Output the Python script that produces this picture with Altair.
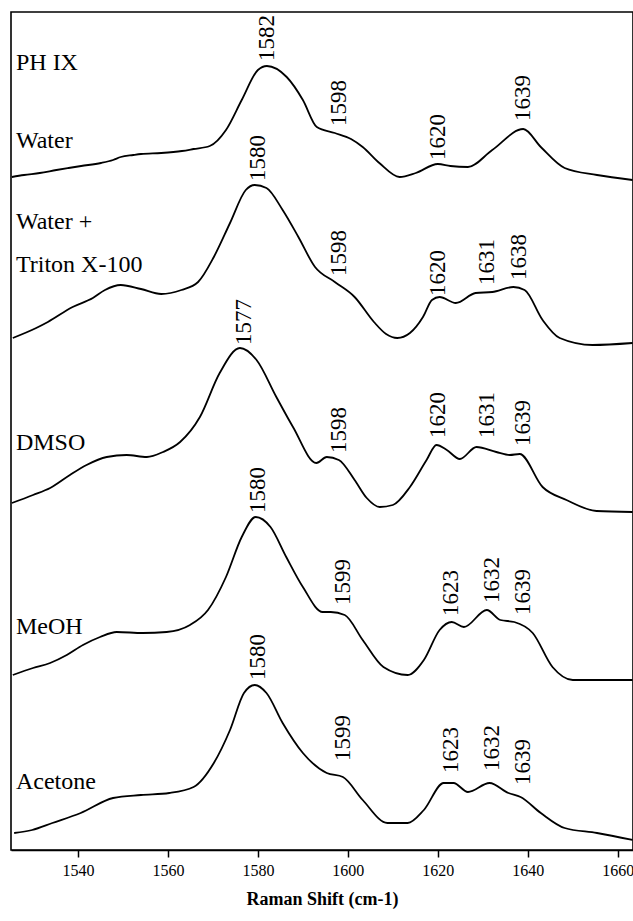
import altair as alt
import pandas as pd

# ---- spectra (Raman shift, stacked intensity in arbitrary units) ----
water_x = [1525.3, 1528.0, 1531.5, 1535.2, 1537.9, 1540.7, 1545.1, 1547.8, 1549.5,
           1552.3, 1554.0, 1558.5, 1561.2, 1563.1, 1565.7, 1569.3, 1572.9, 1576.4, 1580.0,
           1582.0, 1586.4, 1590.0, 1593.1, 1597.1, 1600.7, 1603.3, 1607.0, 1611.5, 1615.1,
           1620.0, 1622.8, 1626.7, 1632.1, 1639.0, 1642.9, 1648.2, 1655.4, 1663.3]
water_y = [673, 675, 677, 680, 682, 684, 687, 690, 693,
           695, 696, 697, 698, 699, 701, 704, 720, 750, 780,
           784, 773, 750, 723, 717, 711, 703, 687, 673, 677,
           686, 684, 683, 700, 721, 703, 682, 675, 670]

triton_x = [1525.5, 1530.7, 1533.3, 1538.8, 1543.3, 1546.0, 1549.5, 1554.0, 1558.5, 1563.0,
            1566.7, 1570.2, 1573.8, 1577.3, 1579.3, 1581.9, 1585.5, 1589.0, 1592.7, 1597.1,
            1601.5, 1605.8, 1608.5, 1611.0, 1613.8, 1616.7, 1618.7, 1620.4, 1624.0, 1628.4,
            1632.1, 1636.8, 1639.3, 1643.3, 1647.1, 1654.4, 1663.3]
triton_y = [512, 522, 528, 543, 552, 560, 565, 561, 556, 560,
            568, 593, 627, 660, 665, 662, 640, 613, 583, 568,
            553, 528, 516, 512, 517, 533, 550, 553, 547, 557,
            558, 563, 560, 530, 512, 505, 507]

dmso_x = [1525.3, 1530.0, 1533.8, 1538.2, 1541.9, 1546.4, 1550.8, 1555.3, 1558.9, 1562.7,
          1567.1, 1571.5, 1576.0, 1579.7, 1584.1, 1587.8, 1593.0, 1595.3, 1598.0, 1601.5,
          1604.2, 1607.1, 1610.0, 1613.8, 1617.5, 1619.7, 1622.0, 1624.9, 1628.6, 1633.0,
          1636.0, 1638.2, 1643.3, 1648.6, 1655.3, 1663.3]
dmso_y = [347, 355, 362, 375, 385, 393, 395, 393, 398, 408,
          433, 477, 502, 490, 453, 423, 387, 393, 390, 370,
          352, 343, 345, 363, 390, 405, 400, 391, 403, 398,
          395, 396, 363, 350, 339, 338]

meoh_x = [1525.5, 1530.0, 1533.8, 1537.5, 1541.1, 1544.9, 1548.6, 1554.4, 1559.7, 1564.9,
          1568.9, 1572.9, 1576.4, 1579.5, 1582.8, 1586.3, 1590.0, 1594.4, 1596.2, 1599.3,
          1603.3, 1607.9, 1613.3, 1616.9, 1620.4, 1623.1, 1625.8, 1630.9, 1633.9, 1637.0,
          1641.1, 1645.5, 1650.0, 1663.3]
meoh_y = [175, 182, 187, 195, 205, 213, 218, 217, 218, 225,
          240, 273, 313, 333, 323, 293, 263, 238, 238, 235,
          210, 183, 175, 190, 220, 228, 223, 240, 230, 228,
          217, 183, 170, 170]

acetone_x = [1525.8, 1529.8, 1534.3, 1540.6, 1547.8, 1554.0, 1560.3, 1565.7, 1570.2, 1573.8,
             1576.9, 1579.3, 1581.9, 1585.5, 1590.0, 1595.3, 1598.9, 1603.3, 1608.8, 1613.3,
             1616.9, 1621.3, 1623.5, 1626.7, 1631.5, 1635.7, 1638.4, 1642.9, 1648.2, 1655.4,
             1663.3]
acetone_y = [17, 20, 27, 37, 52, 55, 57, 63, 87, 120,
             157, 165, 157, 127, 97, 77, 73, 50, 27, 27,
             40, 67, 67, 58, 67, 57, 53, 37, 22, 17,
             10]

# ---- sample names ----
name_text = ["PH IX", "Water", "Water +", "Triton X-100", "DMSO", "MeOH", "Acetone"]
name_y = [787, 709, 628, 585, 407, 223, 68]

# ---- peak labels ----
peak_text = ["1582", "1598", "1620", "1639",
             "1580", "1598", "1620", "1631", "1638",
             "1577", "1598", "1620", "1631", "1639",
             "1580", "1599", "1623", "1632", "1639",
             "1580", "1599", "1623", "1632", "1639"]
peak_x = [1582, 1598, 1620, 1639,
          1580, 1598, 1620, 1631, 1638,
          1577, 1598, 1620, 1631, 1639,
          1580, 1599, 1623, 1632, 1639,
          1580, 1599, 1623, 1632, 1639]
peak_y = [787, 722, 688, 727,
          667, 572, 552, 563, 568,
          503, 395, 410, 410, 402,
          335, 243, 232, 245, 233,
          168, 87, 75, 77, 63]

tick_values = [1540, 1560, 1580, 1600, 1620, 1640, 1660]

series = [("Water", water_x, water_y), ("Triton", triton_x, triton_y),
          ("DMSO", dmso_x, dmso_y), ("MeOH", meoh_x, meoh_y),
          ("Acetone", acetone_x, acetone_y)]
rows = []
for name, xs, ys in series:
    for i, (a, b) in enumerate(zip(xs, ys)):
        rows.append({"s": name, "x": a, "y": b, "i": i})
lines_df = pd.DataFrame(rows)
names_df = pd.DataFrame({"t": name_text, "x": [1526.2] * len(name_text), "y": name_y})
peaks_df = pd.DataFrame({"t": peak_text, "x": peak_x, "y": peak_y})

FONT = "Liberation Serif, Times New Roman, serif"
xscale = alt.Scale(domain=[1525.1, 1663.4], nice=False, zero=False)
yscale = alt.Scale(domain=[0, 838], nice=False, zero=False)

xaxis = alt.Axis(values=tick_values, format="d", grid=False,
                 title="Raman Shift (cm-1)", titleFont=FONT, titleFontSize=18,
                 titleFontWeight="bold", titleColor="black", titlePadding=12,
                 labelFont=FONT, labelFontSize=16, labelColor="black", labelPadding=5,
                 tickColor="black", tickSize=7, tickWidth=1.5,
                 domainColor="black", domainWidth=1.5)

lines = alt.Chart(lines_df).mark_line(color="black", strokeWidth=1.8,
                                      interpolate="monotone").encode(
    x=alt.X("x:Q", scale=xscale, axis=xaxis),
    y=alt.Y("y:Q", scale=yscale, axis=None),
    detail="s:N",
    order="i:Q",
)

names = alt.Chart(names_df).mark_text(font=FONT, fontSize=24, align="left",
                                      baseline="middle", color="black").encode(
    x=alt.X("x:Q", scale=xscale),
    y=alt.Y("y:Q", scale=yscale),
    text="t:N",
)

peaks = alt.Chart(peaks_df).mark_text(font=FONT, fontSize=23, align="left",
                                      baseline="middle", angle=270, color="black",
                                      dx=2).encode(
    x=alt.X("x:Q", scale=xscale),
    y=alt.Y("y:Q", scale=yscale),
    text="t:N",
)

chart = alt.layer(lines, names, peaks).properties(
    width=622, height=838,
    background="white",
    padding={"left": 11, "top": 12, "right": 0, "bottom": 71},
    autosize=alt.AutoSizeParams(type="none"),
).configure_view(stroke="black", strokeWidth=1.6)

chart.save("out.html", embed_options={"renderer": "svg", "actions": False})
